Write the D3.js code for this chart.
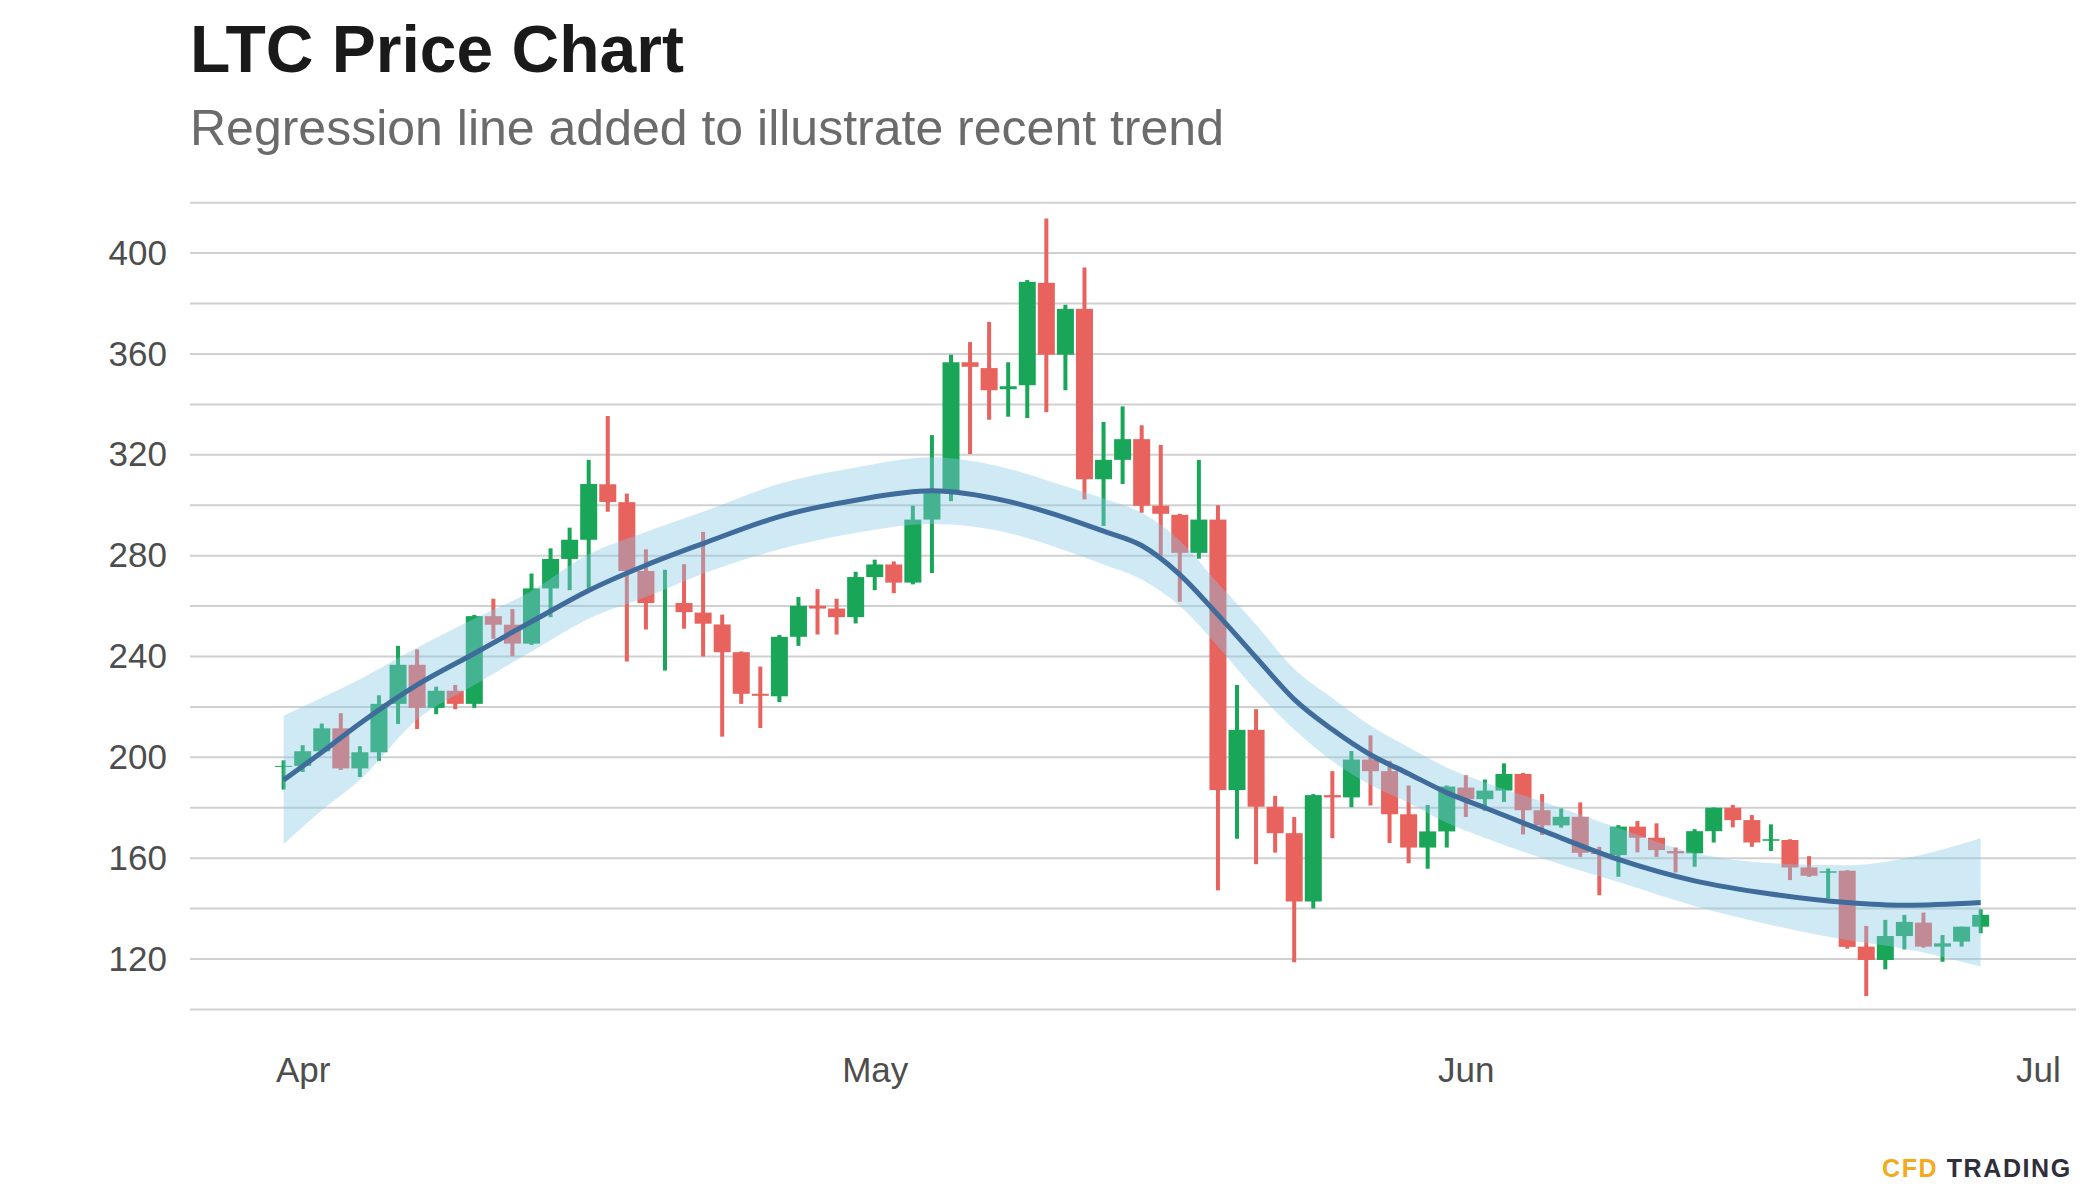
<!DOCTYPE html>
<html><head><meta charset="utf-8">
<script src="https://cdn.jsdelivr.net/npm/d3@7"></script>
<style>body{margin:0;background:#fff}</style>
</head><body><svg id="c" width="2100" height="1200"></svg>
<script>
const dates = ["2021-03-31","2021-04-01","2021-04-02","2021-04-03","2021-04-04","2021-04-05","2021-04-06","2021-04-07","2021-04-08","2021-04-09",
"2021-04-10","2021-04-11","2021-04-12","2021-04-13","2021-04-14","2021-04-15","2021-04-16","2021-04-17","2021-04-18","2021-04-19",
"2021-04-20","2021-04-21","2021-04-22","2021-04-23","2021-04-24","2021-04-25","2021-04-26","2021-04-27","2021-04-28","2021-04-29",
"2021-04-30","2021-05-01","2021-05-02","2021-05-03","2021-05-04","2021-05-05","2021-05-06","2021-05-07","2021-05-08","2021-05-09",
"2021-05-10","2021-05-11","2021-05-12","2021-05-13","2021-05-14","2021-05-15","2021-05-16","2021-05-17","2021-05-18","2021-05-19",
"2021-05-20","2021-05-21","2021-05-22","2021-05-23","2021-05-24","2021-05-25","2021-05-26","2021-05-27","2021-05-28","2021-05-29",
"2021-05-30","2021-05-31","2021-06-01","2021-06-02","2021-06-03","2021-06-04","2021-06-05","2021-06-06","2021-06-07","2021-06-08",
"2021-06-09","2021-06-10","2021-06-11","2021-06-12","2021-06-13","2021-06-14","2021-06-15","2021-06-16","2021-06-17","2021-06-18",
"2021-06-19","2021-06-20","2021-06-21","2021-06-22","2021-06-23","2021-06-24","2021-06-25","2021-06-26","2021-06-27","2021-06-28"];

const open = [196.2,196.6,202.4,211.5,195.6,202.0,221.2,236.7,219.6,226.4,
221.2,256.0,252.6,245.1,267.0,278.7,286.3,308.3,301.2,273.9,
261.2,261.2,257.4,252.7,241.7,225.2,224.2,247.8,260.1,259.0,
255.6,271.5,276.5,269.3,294.3,305.0,356.7,354.4,346.0,347.6,
388.2,359.7,377.9,310.3,318.0,326.2,299.8,296.2,281.1,294.3,
187.0,210.9,180.4,169.9,142.8,185.0,184.1,199.1,194.5,177.4,
164.2,170.6,188.0,183.4,186.8,193.4,179.0,173.0,176.4,162.1,
161.2,172.5,168.1,162.8,161.9,170.7,180.0,175.1,166.9,167.2,
156.3,154.2,155.0,124.9,119.6,129.1,134.4,124.9,126.9,132.8];

const high = [198.8,204.8,213.4,217.5,204.4,224.6,244.2,242.8,228.0,228.7,
256.5,262.9,258.8,272.9,282.9,291.1,318.0,335.4,304.6,282.5,
274.4,276.6,289.4,256.6,242.0,236.0,248.5,263.6,266.7,262.9,
273.6,278.4,277.7,299.8,327.8,359.7,364.7,372.7,356.7,389.3,
413.7,379.5,394.3,333.0,339.2,331.7,323.9,296.6,318.0,300.0,
228.7,219.1,184.7,176.3,185.4,194.5,202.5,208.7,198.6,188.8,
181.1,188.8,192.9,191.2,197.6,193.8,185.4,179.7,182.1,164.5,
173.1,174.7,173.8,164.2,171.5,180.1,181.1,177.1,173.4,167.5,
160.8,155.9,155.2,133.1,135.5,137.5,138.4,129.5,132.8,139.7];

const low = [187.2,194.2,201.5,195.0,192.2,198.6,213.2,211.2,217.1,219.1,
219.6,247.0,240.1,244.6,255.6,266.3,267.0,297.4,238.0,250.7,
234.4,251.0,240.0,208.2,221.2,211.6,221.9,244.2,248.7,248.7,
253.1,266.3,265.1,268.6,273.1,301.6,320.3,333.9,335.1,334.6,
336.9,345.6,302.3,291.8,308.4,297.0,280.0,261.7,278.8,147.2,
167.7,157.6,162.2,118.7,140.0,167.9,180.2,180.9,166.0,158.0,
155.8,164.2,176.3,178.8,182.3,169.4,169.2,172.1,160.5,145.3,
152.6,162.3,160.5,154.3,156.6,166.2,172.2,164.5,162.8,151.3,
152.6,144.0,124.1,105.3,115.9,123.8,124.5,118.9,124.9,130.2];

const close = [196.6,202.4,211.5,195.6,202.0,221.2,236.7,219.6,226.4,221.2,
256.0,252.6,245.1,267.0,278.7,286.3,308.4,301.3,273.9,261.2,
261.2,257.6,253.0,241.7,225.2,224.4,247.8,260.1,259.0,255.6,
271.5,276.5,269.3,294.3,305.0,356.7,354.9,345.6,347.2,388.6,
359.7,377.9,310.3,318.0,326.2,299.8,296.6,281.1,294.3,187.0,
210.9,180.4,169.9,142.8,185.0,184.1,199.1,194.5,177.4,164.2,
170.6,188.4,183.4,186.8,193.4,179.0,173.0,176.4,162.1,161.6,
172.5,168.1,163.2,161.9,170.7,180.0,175.1,166.2,167.5,156.3,
153.0,154.8,124.8,119.6,129.1,134.7,124.9,126.2,132.8,137.5];

// Regression (smoothed trend) line and its confidence band
const trendDates = ["2021-03-31","2021-04-02","2021-04-04","2021-04-07","2021-04-10","2021-04-13","2021-04-16","2021-04-19",
"2021-04-22","2021-04-26","2021-04-30","2021-05-04","2021-05-08","2021-05-11","2021-05-13","2021-05-15","2021-05-17",
"2021-05-19","2021-05-21","2021-05-23","2021-05-25","2021-05-27","2021-05-29","2021-05-31","2021-06-02","2021-06-05",
"2021-06-09","2021-06-13","2021-06-17","2021-06-21","2021-06-24","2021-06-28"];
const trendMid = [191.0,202.0,213.4,228.7,241.2,253.8,266.2,276.2,284.8,295.5,302.0,305.7,301.5,295.0,289.7,284.0,272.5,
256.5,239.6,223.0,211.0,201.0,193.5,186.0,180.0,171.0,159.5,151.0,145.8,142.4,141.3,142.4];
const trendLow = [165.5,179.0,191.0,215.0,228.7,242.0,255.0,263.6,272.8,282.5,289.0,292.5,289.0,282.0,276.5,270.5,260.0,
244.0,226.4,211.0,198.5,189.0,182.0,174.0,168.0,160.0,150.5,141.0,133.5,127.5,124.1,117.0];
const trendHigh = [216.5,223.6,231.0,243.5,255.0,266.0,280.5,289.4,297.4,308.5,315.0,319.0,314.5,307.5,302.7,297.0,286.0,
269.0,252.6,235.0,223.5,212.5,204.0,196.0,190.0,182.5,172.0,162.0,158.0,157.2,159.9,167.9];

const yTickValues = [120,160,200,240,280,320,360,400];
const gridValues = [100,120,140,160,180,200,220,240,260,280,300,320,340,360,380,400,420];
const monthTicks = ["2021-04-01","2021-05-01","2021-06-01","2021-07-01"];
const monthLabels = ["Apr","May","Jun","Jul"];

const parse = d3.utcParse("%Y-%m-%d");
const svg = d3.select("#c");
const FONT = "'Liberation Sans', Arial, Helvetica, sans-serif";
const GREEN = "#19a659", RED = "#e8625e";

const x = d3.scaleUtc()
  .domain([new Date(Date.UTC(2021,2,26,2,10)), new Date(Date.UTC(2021,6,3))])
  .range([190, 2076]);
const y = d3.scaleLinear().domain([100, 420]).range([1009.4, 202.7]);

// Title
svg.append("text").attr("x",190).attr("y",72).attr("font-family",FONT).attr("font-weight","bold")
  .attr("font-size",66).attr("fill","#1a1a1a").text("LTC Price Chart");
svg.append("text").attr("x",190).attr("y",145).attr("font-family",FONT)
  .attr("font-size",50).attr("fill","#6b6b6b").text("Regression line added to illustrate recent trend");

// Gridlines
svg.append("g").selectAll("line").data(gridValues).join("line")
  .attr("x1",190).attr("x2",2076).attr("y1",d=>y(d)).attr("y2",d=>y(d))
  .attr("stroke","#d0d0d0").attr("stroke-width",2);

// Y axis
const yAxis = svg.append("g").attr("transform","translate(190,0)")
  .call(d3.axisLeft(y).tickValues(yTickValues).tickSize(0).tickPadding(23).tickFormat(d3.format("d")));
yAxis.select(".domain").remove();
yAxis.selectAll("text").attr("font-family",FONT).attr("font-size",35).attr("fill","#4d4d4d");

// X axis
const monthDates = monthTicks.map(parse);
const xAxis = svg.append("g").attr("transform","translate(0,1009.4)")
  .call(d3.axisBottom(x).tickValues(monthDates).tickSize(0).tickPadding(48)
    .tickFormat((d,i)=>monthLabels[i]));
xAxis.select(".domain").remove();
xAxis.selectAll("text").attr("font-family",FONT).attr("font-size",35).attr("fill","#4d4d4d");

// Candles
const candles = dates.map((d,i)=>({date:parse(d), o:open[i], h:high[i], l:low[i], c:close[i]}));
const bodyW = 17, wickW = 4;
const cg = svg.append("g");
cg.selectAll("rect.wick").data(candles).join("rect").attr("class","wick")
  .attr("x",d=>x(d.date)-wickW/2).attr("width",wickW)
  .attr("y",d=>y(d.h)).attr("height",d=>y(d.l)-y(d.h))
  .attr("fill",d=>d.c>=d.o?GREEN:RED);
cg.selectAll("rect.body").data(candles).join("rect").attr("class","body")
  .attr("x",d=>x(d.date)-bodyW/2).attr("width",bodyW)
  .attr("y",d=>y(Math.max(d.o,d.c))).attr("height",d=>Math.abs(y(d.o)-y(d.c)))
  .attr("fill",d=>d.c>=d.o?GREEN:RED);

// Confidence band and regression line
const trend = trendDates.map((d,i)=>({date:parse(d), m:trendMid[i], lo:trendLow[i], hi:trendHigh[i]}));
svg.append("path").datum(trend)
  .attr("d", d3.area().x(d=>x(d.date)).y0(d=>y(d.lo)).y1(d=>y(d.hi)).curve(d3.curveMonotoneX))
  .attr("fill","#87c8e6").attr("fill-opacity",0.4);
svg.append("path").datum(trend)
  .attr("d", d3.line().x(d=>x(d.date)).y(d=>y(d.m)).curve(d3.curveMonotoneX))
  .attr("fill","none").attr("stroke","#3f6c9b").attr("stroke-width",5).attr("stroke-linecap","butt");

// Logo
const logo = svg.append("text").attr("x",1882).attr("y",1177).attr("font-family",FONT)
  .attr("font-weight","bold").attr("font-size",25).attr("letter-spacing",1.6);
logo.append("tspan").attr("fill","#f5a91c").text("CFD ");
logo.append("tspan").attr("fill","#2f2f3b").text("TRADING");
</script>
</body></html>
